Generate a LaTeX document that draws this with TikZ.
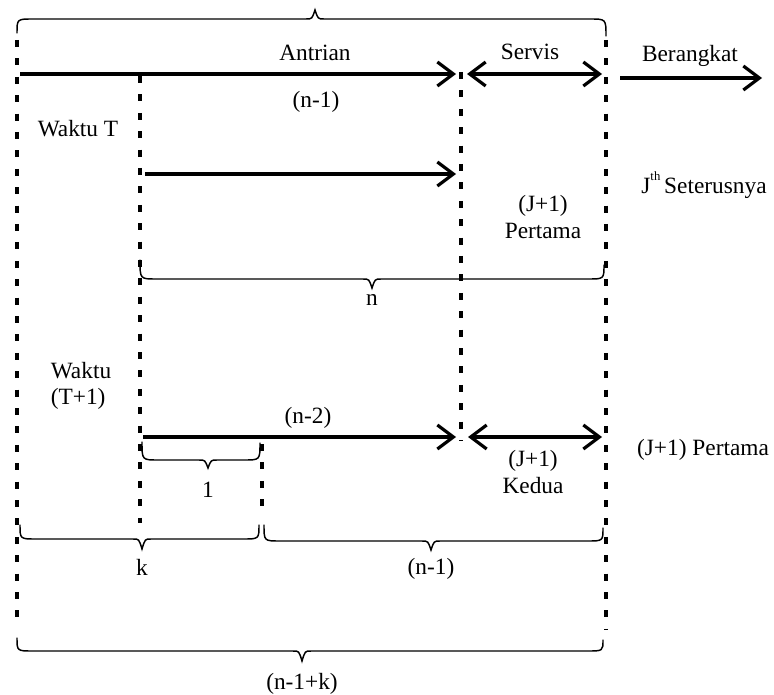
\documentclass[tikz,border=0pt]{standalone}
\usepackage{fontspec}
\setmainfont{Liberation Serif}
\usetikzlibrary{arrows.meta}
\newcommand\hbrace[7]{% x1, x2, yend(left), yend(right), yline, xtip, ytip
  \draw[bracestyle] (#1,#3) .. controls (#1,#5) .. ({#1+16},#5) -- ({#6-9},#5)
    .. controls ({#6-3},#5) .. (#6,#7) .. controls ({#6+3},#5) .. ({#6+9},#5)
    -- ({#2-16},#5) .. controls (#2,#5) .. (#2,#4);}
\begin{document}
\begin{tikzpicture}[x=0.75pt,y=-0.75pt,
  every node/.style={font=\fontsize{17.5}{20}\selectfont, inner sep=0pt, align=center},
  bracestyle/.style={line width=1.1pt, line cap=round},
  vdash/.style={line width=2.4pt, dash pattern=on 5.2pt off 8.6pt},
  tipb/.tip={Straight Barb[length=12pt,width=18pt,line width=2.4pt]},
  flow/.style={line width=2.4pt, -tipb},
  both/.style={line width=2.4pt, tipb-tipb}]
\useasboundingbox (0,0) rectangle (774,695);
% coordinates
\coordinate (L1t) at (17,40);   \coordinate (L1b) at (17,628);
\coordinate (L2t) at (140,76);  \coordinate (L2b) at (140,523);
\coordinate (L3t) at (461,72);  \coordinate (L3b) at (461,441);
\coordinate (L4t) at (606,40);  \coordinate (L4b) at (606,630);
\coordinate (L5t) at (262,444); \coordinate (L5b) at (262,510);
\coordinate (A1s) at (20,74);   \coordinate (A1e) at (456,74);
\coordinate (S1s) at (467,74);  \coordinate (S1e) at (602,74);
\coordinate (B1s) at (620,78);  \coordinate (B1e) at (762,78);
\coordinate (A2s) at (145,174); \coordinate (A2e) at (456,174);
\coordinate (A3s) at (143,437); \coordinate (A3e) at (456,437);
\coordinate (S3s) at (468,437); \coordinate (S3e) at (602,437);
% dashed verticals
\draw[vdash] (L1t) -- (L1b);
\draw[vdash] (L2t) -- (L2b);
\draw[vdash] (L3t) -- (L3b);
\draw[vdash] (L4t) -- (L4b);
\draw[vdash] (L5t) -- (L5b);
% arrows
\draw[flow] (A1s) -- (A1e);
\draw[both] (S1s) -- (S1e);
\draw[flow] (B1s) -- (B1e);
\draw[flow] (A2s) -- (A2e);
\draw[flow] (A3s) -- (A3e);
\draw[both] (S3s) -- (S3e);
% braces
\hbrace{17}{606}{33}{36}{19}{315}{10}
\hbrace{140}{604}{260}{265}{279}{372}{288}
\hbrace{142}{260}{442}{443}{460}{208}{468}
\hbrace{20}{259}{525}{525}{539}{142}{549}
\hbrace{264}{603}{525}{528}{541}{431}{550}
\hbrace{17}{603}{638}{640}{651}{302}{661}
% labels
\node (antrian) at (315,53) {Antrian};
\node (servis) at (530,52) {Servis};
\node (berangkat) at (690,56) {Berangkat};
\node (nm1a) at (316,102) {(n-1)};
\node (waktuT) at (78,129) {Waktu T};
\node (jth) at (704,185) {J\raisebox{0.55em}{\fontsize{9.5}{10}\selectfont th}\,Seterusnya};
\node (jp1) at (543,217) {(J+1)\\Pertama};
\node (nlab) at (372,300) {n};
\node[align=left] (waktuT1) at (81,386) {Waktu\\(T+1)};
\node (nm2) at (308,418) {(n-2)};
\node (jp2) at (703,450) {(J+1) Pertama};
\node (jk) at (533,472) {(J+1)\\Kedua};
\node (one) at (208,490) {1};
\node (klab) at (142,567) {k};
\node (nm1b) at (431,569) {(n-1)};
\node (nm1k) at (302,684) {(n-1+k)};
\end{tikzpicture}
\end{document}
